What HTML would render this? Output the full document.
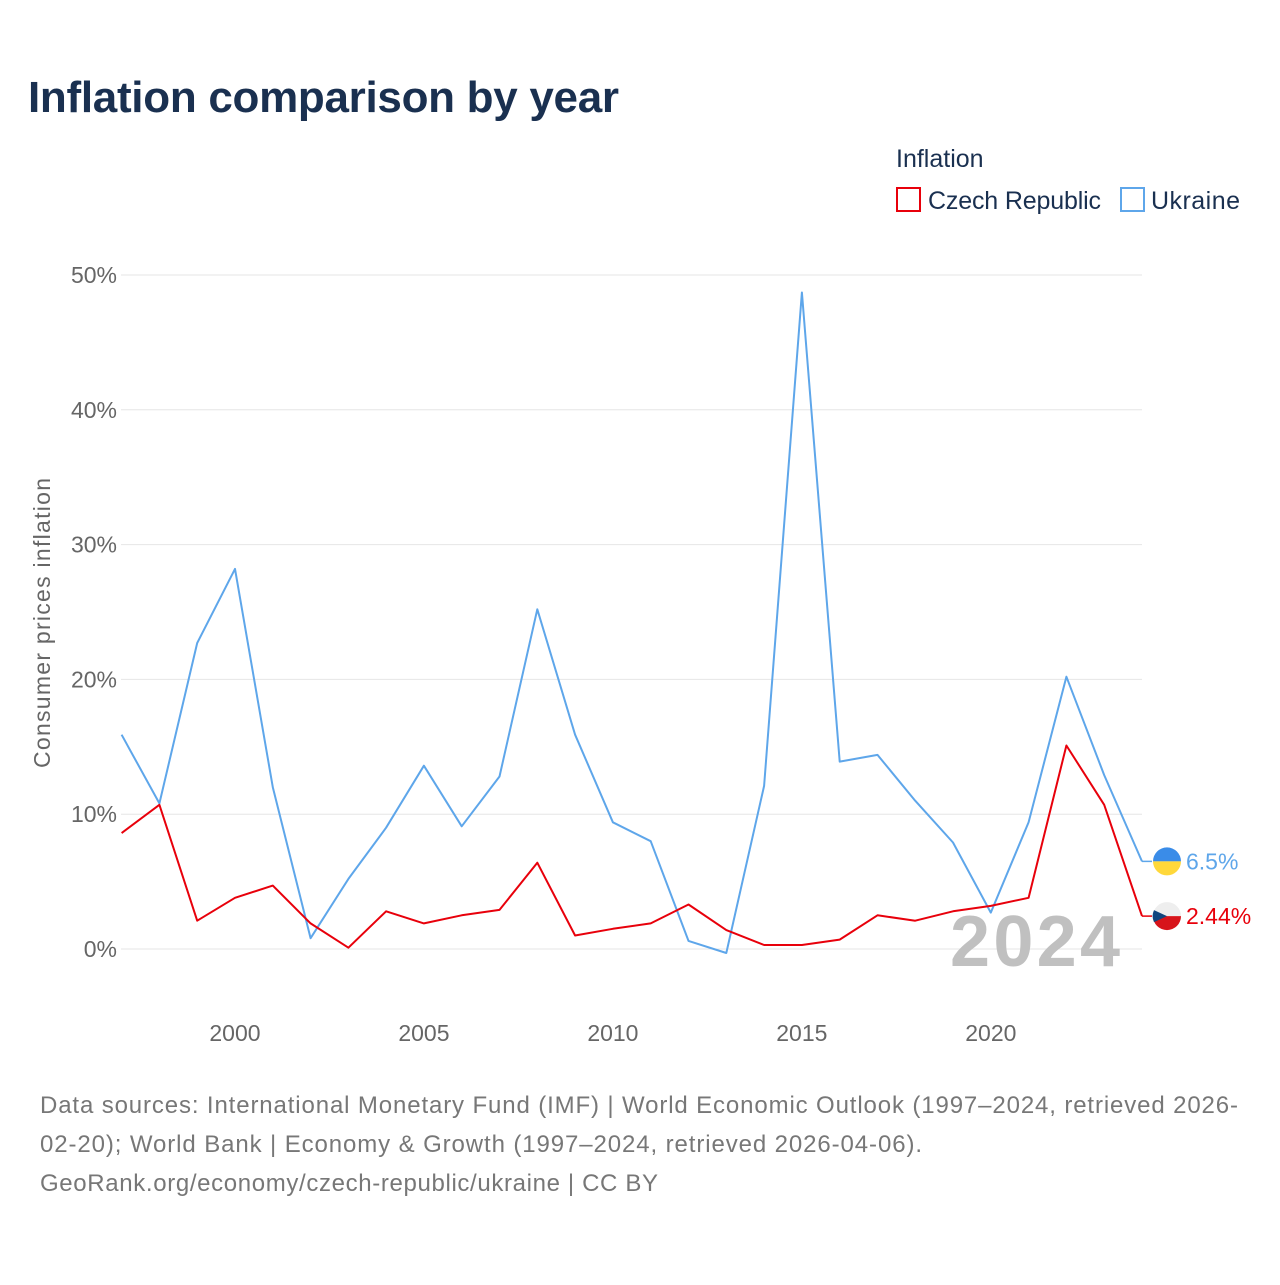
<!DOCTYPE html>
<html><head><meta charset="utf-8">
<style>
body{margin:0;background:#fff;font-family:"Liberation Sans",sans-serif;}
svg text{font-family:"Liberation Sans",sans-serif;}
</style></head>
<body>
<svg width="1280" height="1280" viewBox="0 0 1280 1280" xmlns="http://www.w3.org/2000/svg">
<rect width="1280" height="1280" fill="#fff"/>
<text x="28" y="112" font-size="44" font-weight="bold" fill="#1a3050" textLength="591">Inflation comparison by year</text>
<text x="896" y="167" font-size="25" fill="#1a3050">Inflation</text>
<g><rect x="897" y="188" width="23" height="23" fill="none" stroke="#e8000b" stroke-width="2"/><text x="928" y="209" font-size="25" fill="#1a3050" textLength="173">Czech Republic</text></g>
<g><rect x="1121" y="188" width="23" height="23" fill="none" stroke="#5ea6ea" stroke-width="2"/><text x="1151" y="209" font-size="25" fill="#1a3050" textLength="89">Ukraine</text></g>
<g id="grid"></g>
<g id="yticks"></g>
<g id="xticks"></g>
<text transform="translate(50,623) rotate(-90)" text-anchor="middle" font-size="23" fill="#666" textLength="290">Consumer prices inflation</text>
<text x="1120" y="966" text-anchor="end" font-size="72" font-weight="bold" fill="#c0c0c0" textLength="170">2024</text>
<g id="series"></g>
<text x="40" y="1113" font-size="24" fill="#777" textLength="1198">Data sources: International Monetary Fund (IMF) | World Economic Outlook (1997–2024, retrieved 2026-</text>
<text x="40" y="1152" font-size="24" fill="#777" textLength="882">02-20); World Bank | Economy &amp; Growth (1997–2024, retrieved 2026-04-06).</text>
<text x="40" y="1191" font-size="24" fill="#777" textLength="618">GeoRank.org/economy/czech-republic/ukraine | CC BY</text>
</svg>
<script>
const years=[1997,1998,1999,2000,2001,2002,2003,2004,2005,2006,2007,2008,2009,2010,2011,2012,2013,2014,2015,2016,2017,2018,2019,2020,2021,2022,2023,2024];
const ukraine=[15.9,10.8,22.7,28.2,12.0,0.8,5.2,9.0,13.6,9.1,12.8,25.2,15.9,9.4,8.0,0.6,-0.3,12.1,48.7,13.9,14.4,11.0,7.9,2.7,9.4,20.2,12.9,6.5];
const czech=[8.6,10.7,2.1,3.8,4.7,1.9,0.1,2.8,1.9,2.5,2.9,6.4,1.0,1.5,1.9,3.3,1.4,0.3,0.3,0.7,2.5,2.1,2.8,3.2,3.8,15.1,10.7,2.44];
const yTicks=[0,10,20,30,40,50];
const xTicks=[2000,2005,2010,2015,2020];
const NS="http://www.w3.org/2000/svg";
const x=v=>121.6+(v-1997)*(1142-121.6)/27;
const y=v=>949-v*13.48;
function mk(t,a,p){const e=document.createElementNS(NS,t);for(const k in a)e.setAttribute(k,a[k]);p.appendChild(e);return e;}
const grid=document.getElementById('grid'),yt=document.getElementById('yticks'),xt=document.getElementById('xticks'),s=document.getElementById('series');
yTicks.forEach(t=>{
 const l=mk('line',{x1:121,x2:1142,y1:y(t),y2:y(t),stroke:'#e6e6e6','stroke-width':1},grid);
 
 
 const tx=mk('text',{x:117,y:y(t)+8,'text-anchor':'end','font-size':23,fill:'#666'},yt);
 tx.textContent=t+'%';
 
 
});
xTicks.forEach(t=>{
 const tx=mk('text',{x:x(t),y:1041,'text-anchor':'middle','font-size':23,fill:'#666'},xt);
 tx.textContent=t;
 
 
});
function line(vals,col,name){
 const d=vals.map((v,i)=>(i?'L':'M')+x(years[i]).toFixed(1)+','+y(v).toFixed(1)).join('');
 const p=mk('path',{d:d,fill:'none',stroke:col,'stroke-width':2,'stroke-linejoin':'round'},s);
 
 
}
line(ukraine,'#5ea6ea','ukraine-line');
line(czech,'#e8000b','czech-line');
function endLabel(vals,col,name,txt,flag){
 const v=vals[vals.length-1],yy=y(v),xx=x(years[years.length-1]);
 const g=mk('g',{},s);
 
 
 mk('line',{x1:xx,x2:xx+10,y1:yy,y2:yy,stroke:col,'stroke-width':1.5},g);
 const cx=xx+25;
 if(flag==='ua'){
  mk('path',{d:`M${cx-14},${yy} A14,14 0 0 1 ${cx+14},${yy} Z`,fill:'#3a8ce8'},g);
  mk('path',{d:`M${cx-14},${yy} A14,14 0 0 0 ${cx+14},${yy} Z`,fill:'#ffd83a'},g);
 }else{
  mk('path',{d:`M${cx-14},${yy} A14,14 0 0 1 ${cx+14},${yy} Z`,fill:'#eeeeee'},g);
  mk('path',{d:`M${cx-14},${yy} A14,14 0 0 0 ${cx+14},${yy} Z`,fill:'#d7141a'},g);
  mk('path',{d:`M${cx-13},${yy-6} L${cx},${yy} L${cx-13},${yy+6} A14,14 0 0 1 ${cx-13},${yy-6} Z`,fill:'#11457e'},g);
 }
 const t=mk('text',{x:cx+19,y:yy+8,'font-size':23,fill:col},g);
 t.textContent=txt;
}
endLabel(ukraine,'#5ea6ea','ukraine-end-label','6.5%','ua');
endLabel(czech,'#e8000b','czech-end-label','2.44%','cz');
</script>
</body></html>
